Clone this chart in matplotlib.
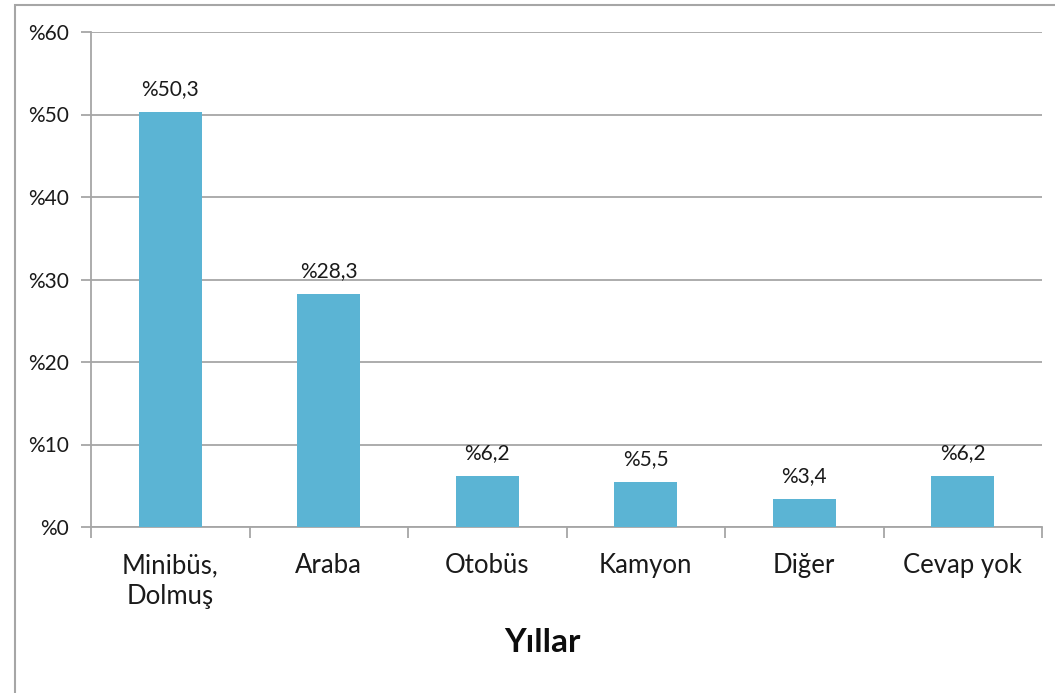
import matplotlib.pyplot as plt
import matplotlib.patches as mpatches
import numpy as np

categories = ["Minibüs,\nDolmuş", "Araba", "Otobüs", "Kamyon", "Diğer", "Cevap yok"]
values = [50.3, 28.3, 6.2, 5.5, 3.4, 6.2]
yticks = [0, 10, 20, 30, 40, 50, 60]

plt.rcParams['font.family'] = ['Lato', 'DejaVu Sans']

W, H = 1055, 693
fig = plt.figure(figsize=(W / 100, H / 100), dpi=100)
ax = fig.add_axes([91 / W, 1 - 527 / H, (1042 - 91) / W, (527 - 32) / H])

# outer chart frame (only left and top visible in the crop)
fig.patches.append(mpatches.Rectangle((15 / W, -0.1), 1.2, 1 - 5 / H + 0.1,
                                      transform=fig.transFigure, fill=False,
                                      edgecolor='#a6a6a6', linewidth=1.5))

x = np.arange(len(categories))
ax.bar(x, values, width=0.4, color='#5bb4d4', zorder=3)

for xi, v in zip(x, values):
    ax.annotate(f"%{v:.1f}".replace('.', ','), (xi, v), xytext=(0, 9),
                textcoords='offset points', ha='center', va='bottom',
                fontsize=15, color='#1a1a1a')

ax.set_xlim(-0.5, len(categories) - 0.5)
ax.set_ylim(0, 60)
ax.set_yticks(yticks)
ax.set_yticklabels([f"%{t}" for t in yticks], fontsize=15, color='#1a1a1a')
ax.yaxis.grid(True, color='#a6a6a6', linewidth=1.3, zorder=0)

ax.set_xticks(x)
ax.set_xticklabels(categories, fontsize=18.5, color='#1a1a1a', linespacing=1.3)
ax.tick_params(axis='x', length=0, pad=19)
ax.tick_params(axis='y', length=7, color='#a6a6a6', width=1.3, pad=9)

# category separators below the axis
ax.set_xticks(np.arange(-0.5, len(categories)), minor=True)
ax.tick_params(axis='x', which='minor', length=8, color='#a6a6a6', width=1.3)

for s in ['top', 'right']:
    ax.spines[s].set_visible(False)
for s in ['left', 'bottom']:
    ax.spines[s].set_color('#a6a6a6')
    ax.spines[s].set_linewidth(1.3)

fig.text(542 / W, 1 - 643 / H, "Yıllar", ha='center', va='center',
         fontsize=24, fontweight='bold', color='#0d0d0d')

fig.savefig('out.png', dpi=100, facecolor='white')
